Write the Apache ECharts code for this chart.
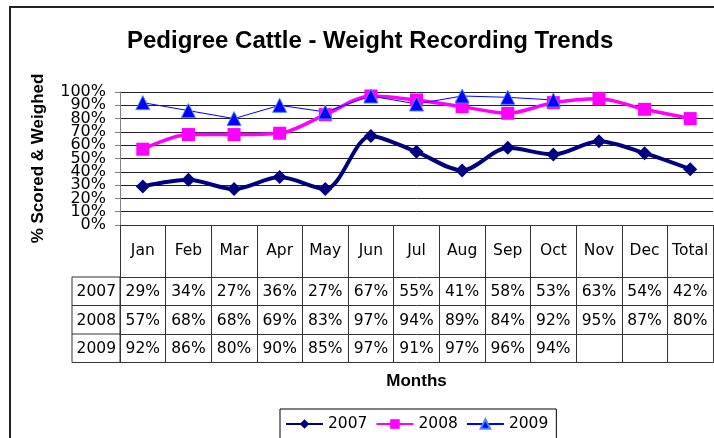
<!DOCTYPE html>
<html>
<head>
<meta charset="utf-8">
<script src="https://cdn.jsdelivr.net/npm/echarts@6/dist/echarts.min.js"></script>
<style>
  html, body { margin: 0; padding: 0; background: #fff; }
  #main { width: 714px; height: 438px; }
</style>
</head>
<body>
<div id="main"></div>
<script>
var months = ['Jan', 'Feb', 'Mar', 'Apr', 'May', 'Jun', 'Jul', 'Aug', 'Sep', 'Oct', 'Nov', 'Dec', 'Total'];
var years = ['2007', '2008', '2009'];
var data2007 = [29, 34, 27, 36, 27, 67, 55, 41, 58, 53, 63, 54, 42];
var data2008 = [57, 68, 68, 69, 83, 97, 94, 89, 84, 92, 95, 87, 80];
var data2009 = [92, 86, 80, 90, 85, 97, 91, 97, 96, 94, null, null, null];
// y tick labels, split in two sets so the tightly packed labels all show
var yTicksEven = [0, 20, 40, 60, 80, 100];
var yTicksOdd = [10, 30, 50, 70, 90];

var lineCol = '#333';
var txtFont = 'DejaVu Sans';
var txtSize = 15.5;

// table layout (px below the plot's x axis)
var headH = 52;
var rowH = 28.5;
var gridLeft = 120, gridTop = 92, gridBottom = 213;
var axisY = 438 - gridBottom;
var yearLeft = 72;

function pct(arr) {
    return arr.map(function (v) { return v == null ? '' : v + '%'; });
}

function rowAxis(idx, name, labels) {
    return {
        type: 'category',
        gridIndex: 0,
        position: 'bottom',
        offset: headH + rowH * idx,
        data: labels,
        axisLine: { show: true, onZero: false, lineStyle: { color: lineCol, width: 1 } },
        axisTick: { show: true, interval: 0, length: rowH, lineStyle: { color: lineCol } },
        axisLabel: { interval: 0, margin: 7, color: '#000', fontFamily: txtFont, fontSize: txtSize },
        name: name,
        nameLocation: 'start',
        nameGap: 4,
        nameTextStyle: { color: '#000', fontFamily: txtFont, fontSize: txtSize, verticalAlign: 'top', padding: [7, 0, 0, 0] }
    };
}

function yLabelStyle(vals) {
    return {
        margin: 14,
        color: '#000',
        fontFamily: txtFont,
        fontSize: 16,
        customValues: vals,
        showMinLabel: true,
        showMaxLabel: true,
        formatter: function (v) { return v + '%'; }
    };
}

var myChart = echarts.init(document.getElementById('main'));

var xAxes = [
    {
        type: 'category',
        position: 'bottom',
        data: months,
        axisLine: { show: true, onZero: false, lineStyle: { color: lineCol, width: 1 } },
        axisTick: { show: true, interval: 0, length: headH, lineStyle: { color: lineCol } },
        axisLabel: { interval: 0, margin: 18, color: '#000', fontFamily: txtFont, fontSize: txtSize }
    },
    rowAxis(0, years[0], pct(data2007)),
    rowAxis(1, years[1], pct(data2008)),
    rowAxis(2, years[2], pct(data2009)),
    {
        type: 'category',
        position: 'bottom',
        offset: headH + rowH * 3,
        data: months.map(function () { return ''; }),
        axisLine: { show: true, onZero: false, lineStyle: { color: lineCol, width: 1 } },
        axisTick: { show: false },
        axisLabel: { show: false },
        name: 'Months',
        nameLocation: 'middle',
        nameGap: 10,
        nameTextStyle: { color: '#000', fontFamily: 'Liberation Sans', fontWeight: 'bold', fontSize: 17 }
    }
];

var option = {
    animation: false,
    backgroundColor: '#fff',
    title: {
        text: 'Pedigree Cattle - Weight Recording Trends',
        left: 122,
        top: 24,
        textStyle: { fontFamily: 'Liberation Sans', fontWeight: 'bold', fontSize: 24, color: '#000' }
    },
    grid: {
        left: gridLeft,
        right: 1,
        top: gridTop,
        bottom: gridBottom,
        containLabel: false
    },
    legend: {
        left: 280,
        top: 409,
        orient: 'horizontal',
        borderColor: '#000',
        borderWidth: 1,
        borderRadius: 0,
        padding: [7, 8, 12, 5],
        itemWidth: 37,
        itemHeight: 12,
        itemGap: 8,
        textStyle: { fontFamily: txtFont, fontSize: txtSize, color: '#000' },
        data: years
    },
    xAxis: xAxes,
    yAxis: [
        {
            type: 'value',
            min: 0,
            max: 100,
            interval: 10,
            name: '% Scored & Weighed',
            nameLocation: 'middle',
            nameRotate: 90,
            nameGap: 73,
            nameTextStyle: { fontFamily: 'Liberation Sans', fontWeight: 'bold', fontSize: 17, color: '#000' },
            axisLine: { show: true, onZero: false, lineStyle: { color: '#808080' } },
            axisTick: { show: true, length: 5, lineStyle: { color: '#808080' } },
            axisLabel: yLabelStyle(yTicksEven),
            splitLine: { show: true, lineStyle: { color: '#222', width: 1 } }
        },
        {
            type: 'value',
            min: 0,
            max: 100,
            interval: 10,
            position: 'left',
            axisLine: { show: false, onZero: false },
            axisTick: { show: false },
            axisLabel: yLabelStyle(yTicksOdd),
            splitLine: { show: false }
        }
    ],
    series: [
        {
            name: years[0],
            type: 'line',
            data: data2007,
            smooth: 0.3,
            symbol: 'diamond',
            symbolSize: 14,
            color: '#000080',
            lineStyle: { width: 4, color: '#000080' },
            itemStyle: { color: '#000080' }
        },
        {
            name: years[1],
            type: 'line',
            data: data2008,
            smooth: 0.3,
            symbol: 'rect',
            symbolSize: 13,
            color: '#FF00FF',
            lineStyle: { width: 3.5, color: '#FF00FF' },
            itemStyle: { color: '#FF00FF' }
        },
        {
            name: years[2],
            type: 'line',
            data: data2009,
            smooth: false,
            symbol: 'triangle',
            symbolSize: 14,
            color: '#0000FF',
            lineStyle: { width: 1, color: '#0000FF' },
            itemStyle: { color: '#0000FF', borderColor: '#4a86ff', borderWidth: 1 }
        }
    ],
    graphic: [
        // outer chart border
        {
            type: 'rect',
            shape: { x: 10, y: 7, width: 720, height: 450 },
            style: { fill: 'none', stroke: '#222', lineWidth: 2 },
            silent: true
        },
        // year column of the data table
        {
            type: 'rect',
            shape: { x: yearLeft, y: axisY + headH, width: gridLeft - yearLeft, height: rowH * 3 },
            style: { fill: 'none', stroke: lineCol, lineWidth: 1 },
            silent: true
        },
        {
            type: 'line',
            shape: { x1: yearLeft, y1: axisY + headH + rowH, x2: gridLeft, y2: axisY + headH + rowH },
            style: { stroke: lineCol, lineWidth: 1 },
            silent: true
        },
        {
            type: 'line',
            shape: { x1: yearLeft, y1: axisY + headH + rowH * 2, x2: gridLeft, y2: axisY + headH + rowH * 2 },
            style: { stroke: lineCol, lineWidth: 1 },
            silent: true
        }
    ]
};

myChart.setOption(option);
</script>
</body>
</html>
